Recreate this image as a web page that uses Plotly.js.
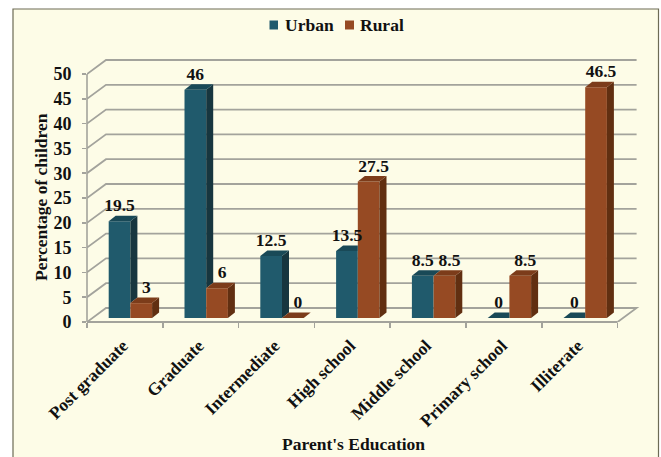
<!DOCTYPE html>
<html><head><meta charset="utf-8">
<script src="https://cdn.plot.ly/plotly-3.0.1.min.js"></script>
<style>html,body{margin:0;padding:0;background:#fff}#c{width:661px;height:457px}</style>
</head><body><div id="c"></div>
<script>
const categories = ["Post graduate","Graduate","Intermediate","High school","Middle school","Primary school","Illiterate"];
const urban = [19.5,46,12.5,13.5,8.5,0,0];
const rural = [3,6,0,27.5,8.5,8.5,46.5];
const yTicks = [0,5,10,15,20,25,30,35,40,45,50];
const seriesNames = ["Urban","Rural"];
const xTitle = "Parent's Education";
const yTitle = "Percentage of children";

const F = "'Liberation Serif','Times New Roman',serif";
const L=87, R=642, T=52, B=322, W=661, H=457;
const pxX=75.8, pxY=4.96;
const rangeX=[0,(R-L)/pxX], rangeY=[0,(B-T)/pxY];
const backX=19/pxX, backY=14/pxY;          // wall offset
const shiftX=5.5/pxX, base=4/pxY;          // bars stand a little behind the front edge
const barW=21.7/pxX, depthX=7/pxX, depthY=5.5/pxY;
const front={u:"#205a6c",r:"#964a23"}, top_={u:"#194957",r:"#7c3c1a"}, side={u:"#17363f",r:"#612f11"};
const N=categories.length;
const grey="#a3a39c";
const paperX=px=>(px-L)/(R-L), paperY=py=>(B-py)/(B-T);

const shapes=[];
// cream panel
shapes.push({type:"rect",xref:"paper",yref:"paper",layer:"below",
  x0:paperX(13),x1:paperX(658.5),y0:paperY(460),y1:paperY(9),
  fillcolor:"#fdfce7",line:{color:"#6d6b55",width:1.2}});
// gridlines on the walls
yTicks.forEach(v=>{
  shapes.push({type:"path",xref:"x",yref:"y",layer:"below",
    path:`M0,${v}L${backX},${v+backY}L${N+backX},${v+backY}`+(v===0?`L${N},0`:""),
    line:{color:grey,width:1.8}});
});
// y axis line and front floor edge
shapes.push({type:"line",xref:"paper",yref:"y",layer:"below",x0:0,x1:0,y0:0,y1:50,line:{color:grey,width:1.6}});
shapes.push({type:"line",xref:"x",yref:"paper",layer:"below",x0:0,x1:N,y0:0,y1:0,line:{color:grey,width:1.8}});
// legend swatches
shapes.push({type:"rect",xref:"paper",yref:"paper",x0:paperX(269.5),x1:paperX(278),y0:paperY(29.5),y1:paperY(20.5),fillcolor:front.u,line:{width:0}});
shapes.push({type:"rect",xref:"paper",yref:"paper",x0:paperX(345),x1:paperX(354),y0:paperY(29.5),y1:paperY(20.5),fillcolor:front.r,line:{width:0}});

function poly(pts,color){
  return {type:"scatter",mode:"lines",x:pts.map(p=>p[0]).concat(pts[0][0]),y:pts.map(p=>p[1]).concat(pts[0][1]),
    fill:"toself",fillcolor:color,line:{width:0,color:color},hoverinfo:"skip",showlegend:false};
}
const traces=[];
// front faces as real bars
traces.push({type:"bar",name:seriesNames[0],x:categories.map((_,i)=>i+.5+shiftX-barW/2),y:urban,base:base,width:barW,marker:{color:front.u},hoverinfo:"y"});
traces.push({type:"bar",name:seriesNames[1],x:categories.map((_,i)=>i+.5+shiftX+barW/2),y:rural,base:base,width:barW,marker:{color:front.r},hoverinfo:"y"});
// urban top and side, cut where the rural bar stands in front
urban.forEach((u,i)=>{
  const x1=i+.5+shiftX, x0=x1-barW, t=base+u, r=base+rural[i];
  if(r>t){
    traces.push(poly([[x0,t],[x0+depthX,t+depthY],[x1,t+depthY],[x1,t]],top_.u));
  }else{
    traces.push(poly([[x1,r],[x1+depthX,r+depthY],[x1+depthX,t+depthY],[x1,t]],side.u));
    traces.push(poly([[x0,t],[x0+depthX,t+depthY],[x1+depthX,t+depthY],[x1,t]],top_.u));
  }
});
// rural top and side
rural.forEach((v,i)=>{
  const x0=i+.5+shiftX, x1=x0+barW, t=base+v;
  traces.push(poly([[x1,base],[x1+depthX,base+depthY],[x1+depthX,t+depthY],[x1,t]],side.r));
  traces.push(poly([[x0,t],[x0+depthX,t+depthY],[x1+depthX,t+depthY],[x1,t]],top_.r));
});
// value labels
const labelFont={family:F,size:17.5,color:"#111"};
traces.push({type:"scatter",mode:"text",showlegend:false,hoverinfo:"skip",cliponaxis:false,
  x:urban.map((_,i)=>i+.5+shiftX-barW/2+depthX/2-3.5/pxX),y:urban.map(v=>base+v+depthY),
  text:urban.map(v=>"<b>"+v+"</b>"),textposition:"top center",textfont:labelFont});
traces.push({type:"scatter",mode:"text",showlegend:false,hoverinfo:"skip",cliponaxis:false,
  x:rural.map((_,i)=>i+.5+shiftX+barW/2+depthX/2+1.5/pxX),y:rural.map(v=>base+v+depthY),
  text:rural.map(v=>"<b>"+v+"</b>"),textposition:"top center",textfont:labelFont});

const titleFont={family:F,size:17.5,color:"#111"};
const annotations=[
  {xref:"paper",yref:"paper",x:paperX(283),y:paperY(25),xanchor:"left",yanchor:"middle",showarrow:false,text:"<b>"+seriesNames[0]+"</b>",font:titleFont},
  {xref:"paper",yref:"paper",x:paperX(358),y:paperY(25),xanchor:"left",yanchor:"middle",showarrow:false,text:"<b>"+seriesNames[1]+"</b>",font:titleFont},
  {xref:"paper",yref:"paper",x:paperX(353),y:paperY(444),xanchor:"center",yanchor:"middle",showarrow:false,text:"<b>"+xTitle+"</b>",font:titleFont},
  {xref:"paper",yref:"paper",x:paperX(41),y:paperY(197),xanchor:"center",yanchor:"middle",showarrow:false,textangle:-90,text:"<b>"+yTitle+"</b>",font:titleFont}
];

const layout={
  width:W,height:H,showlegend:false,
  margin:{l:L,r:W-R,t:T,b:H-B,pad:0},
  paper_bgcolor:"#fff",plot_bgcolor:"rgba(0,0,0,0)",
  barmode:"overlay",
  font:{family:F,color:"#111"},
  shapes:shapes,annotations:annotations,
  xaxis:{range:rangeX,tickmode:"array",tickvals:categories.map((_,i)=>i+.5-2/pxX),ticktext:categories.map(c=>"<b>"+c+"</b>"),
    tickangle:-45,ticks:"",showgrid:false,zeroline:false,showline:false,
    tickfont:{family:F,size:17.5,color:"#111"},ticklabelstandoff:9,
    minor:{tickmode:"array",tickvals:Array.from({length:N+1},(_,i)=>i),ticks:"outside",ticklen:5,tickwidth:1.5,tickcolor:grey,showgrid:false},
    automargin:false},
  yaxis:{range:rangeY,tickmode:"array",tickvals:yTicks,ticktext:yTicks.map(v=>"<b>"+v+"</b>"),ticks:"outside",ticklen:4,tickwidth:1.5,tickcolor:grey,
    showgrid:false,zeroline:false,showline:false,tickfont:{family:F,size:18,color:"#111"},ticklabelstandoff:7,
    automargin:false}
};
Plotly.newPlot("c",traces,layout,{displayModeBar:false,staticPlot:true});
</script></body></html>
